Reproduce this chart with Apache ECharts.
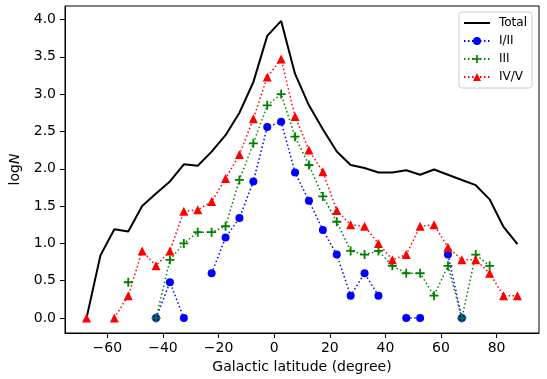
<!DOCTYPE html>
<html>
<head>
<meta charset="utf-8">
<script src="https://cdn.jsdelivr.net/npm/echarts@6/dist/echarts.min.js"></script>
<style>
  html, body { margin: 0; padding: 0; background: #fff; }
  #chart { width: 547px; height: 379px; }
</style>
</head>
<body>
<div id="chart"></div>
<script>
// galactic latitude bin centres (degree)
const latitudes = [-67.5, -62.5, -57.5, -52.5, -47.5, -42.5, -37.5, -32.5, -27.5, -22.5,
  -17.5, -12.5, -7.5, -2.5, 2.5, 7.5, 12.5, 17.5, 22.5, 27.5, 32.5, 37.5, 42.5, 47.5,
  52.5, 57.5, 62.5, 67.5, 72.5, 77.5, 82.5, 87.5];

// log N per bin, null = no stars in bin
const totalVals = [0.0, 0.84, 1.19, 1.16, 1.50, 1.67, 1.83, 2.06, 2.04, 2.23,
  2.45, 2.75, 3.16, 3.78, 3.98, 3.27, 2.85, 2.53, 2.23, 2.05, 2.01, 1.95, 1.95, 1.98,
  1.92, 1.99, 1.92, 1.85, 1.78, 1.59, 1.22, 0.99];
const class12Vals = [null, null, null, null, null, 0.0, 0.48, 0.0, null, 0.60,
  1.08, 1.34, 1.83, 2.56, 2.63, 1.95, 1.57, 1.18, 0.85, 0.30, 0.60, 0.30, null, 0.0,
  0.0, null, 0.85, 0.0, null, null, null, null];
const class3Vals = [null, null, null, 0.48, null, 0.0, 0.78, 1.0, 1.15, 1.15,
  1.23, 1.85, 2.34, 2.85, 3.0, 2.43, 2.05, 1.63, 1.29, 0.90, 0.85, 0.90, 0.70, 0.60,
  0.60, 0.30, 0.70, 0.0, 0.85, 0.70, null, null];
const class45Vals = [0.0, null, 0.0, 0.30, 0.90, 0.70, 0.90, 1.43, 1.45, 1.56,
  1.87, 2.19, 2.67, 3.23, 3.47, 2.70, 2.25, 1.96, 1.44, 1.25, 1.23, 1.0, 0.78, 0.85,
  1.23, 1.25, 0.95, 0.78, 0.78, 0.60, 0.30, 0.30];

const xTicks = [-60, -40, -20, 0, 20, 40, 60, 80];
const yTicks = [0, 0.5, 1.0, 1.5, 2.0, 2.5, 3.0, 3.5, 4.0];

const FONT = 'DejaVu Sans';
const plusPath = 'path://M4,0H6V4H10V6H6V10H4V6H0V4H4Z';

function pairs(vals) {
  return latitudes.map((x, i) => [x, vals[i]]);
}

function dottedSeries(name, vals, color, symbol, size) {
  return {
    name,
    type: 'line',
    data: pairs(vals),
    symbol,
    symbolSize: size,
    showAllSymbol: true,
    connectNulls: false,
    lineStyle: { color, width: 1.5, type: [1.5, 2.5] },
    itemStyle: { color, borderWidth: 0 },
    emphasis: { disabled: true }
  };
}

const chart = echarts.init(document.getElementById('chart'));
chart.setOption({
  animation: false,
  textStyle: { fontFamily: FONT },
  grid: {
    left: 65, right: 8, top: 6, bottom: 45,
    show: true, borderColor: '#000', borderWidth: 1, backgroundColor: 'transparent'
  },
  legend: {
    orient: 'vertical',
    right: 15, top: 12,
    itemWidth: 26, itemHeight: 10, itemGap: 6,
    padding: [5, 5, 5, 4],
    borderColor: '#cccccc', borderWidth: 1, borderRadius: 3,
    backgroundColor: 'rgba(255,255,255,0.8)',
    textStyle: { fontFamily: FONT, fontSize: 12, color: '#000', padding: [0, 0, 0, 4] },
    data: [
      // the total curve has no marker, hide the legend dot
      { name: 'Total', itemStyle: { opacity: 0 } },
      'I/II', 'III', 'IV/V'
    ]
  },
  xAxis: {
    type: 'value',
    min: -75.25, max: 95.25,
    name: 'Galactic latitude (degree)',
    nameLocation: 'middle',
    nameGap: 27,
    nameTextStyle: { fontFamily: FONT, fontSize: 14, color: '#000' },
    axisLine: { show: true, onZero: false, lineStyle: { color: '#000', width: 1 } },
    axisTick: { show: true, length: 5, customValues: xTicks, lineStyle: { color: '#000' } },
    axisLabel: {
      customValues: xTicks, fontFamily: FONT, fontSize: 14, color: '#000', margin: 8,
      formatter: v => (v < 0 ? '\u2212' + Math.abs(v) : String(v))
    },
    splitLine: { show: false }
  },
  yAxis: {
    type: 'value',
    min: -0.2, max: 4.18,
    name: '{a|log}{b|N}',
    nameLocation: 'middle',
    nameGap: 36,
    nameTextStyle: {
      color: '#000',
      rich: {
        a: { fontFamily: FONT, fontSize: 14, color: '#000' },
        b: { fontFamily: FONT, fontSize: 14, fontStyle: 'italic', color: '#000' }
      }
    },
    axisLine: { show: true, onZero: false, lineStyle: { color: '#000', width: 1 } },
    axisTick: { show: true, length: 5, customValues: yTicks, lineStyle: { color: '#000' } },
    axisLabel: {
      customValues: yTicks, fontFamily: FONT, fontSize: 14, color: '#000', margin: 9,
      formatter: v => v.toFixed(1)
    },
    splitLine: { show: false }
  },
  series: [
    {
      name: 'Total',
      type: 'line',
      data: pairs(totalVals),
      symbol: 'none',
      lineStyle: { color: '#000', width: 2 },
      itemStyle: { color: '#000' },
      emphasis: { disabled: true }
    },
    dottedSeries('I/II', class12Vals, '#0000ff', 'circle', 8),
    dottedSeries('III', class3Vals, '#008000', plusPath, 9),
    dottedSeries('IV/V', class45Vals, '#ff0000', 'triangle', 9)
  ]
});
</script>
</body>
</html>
